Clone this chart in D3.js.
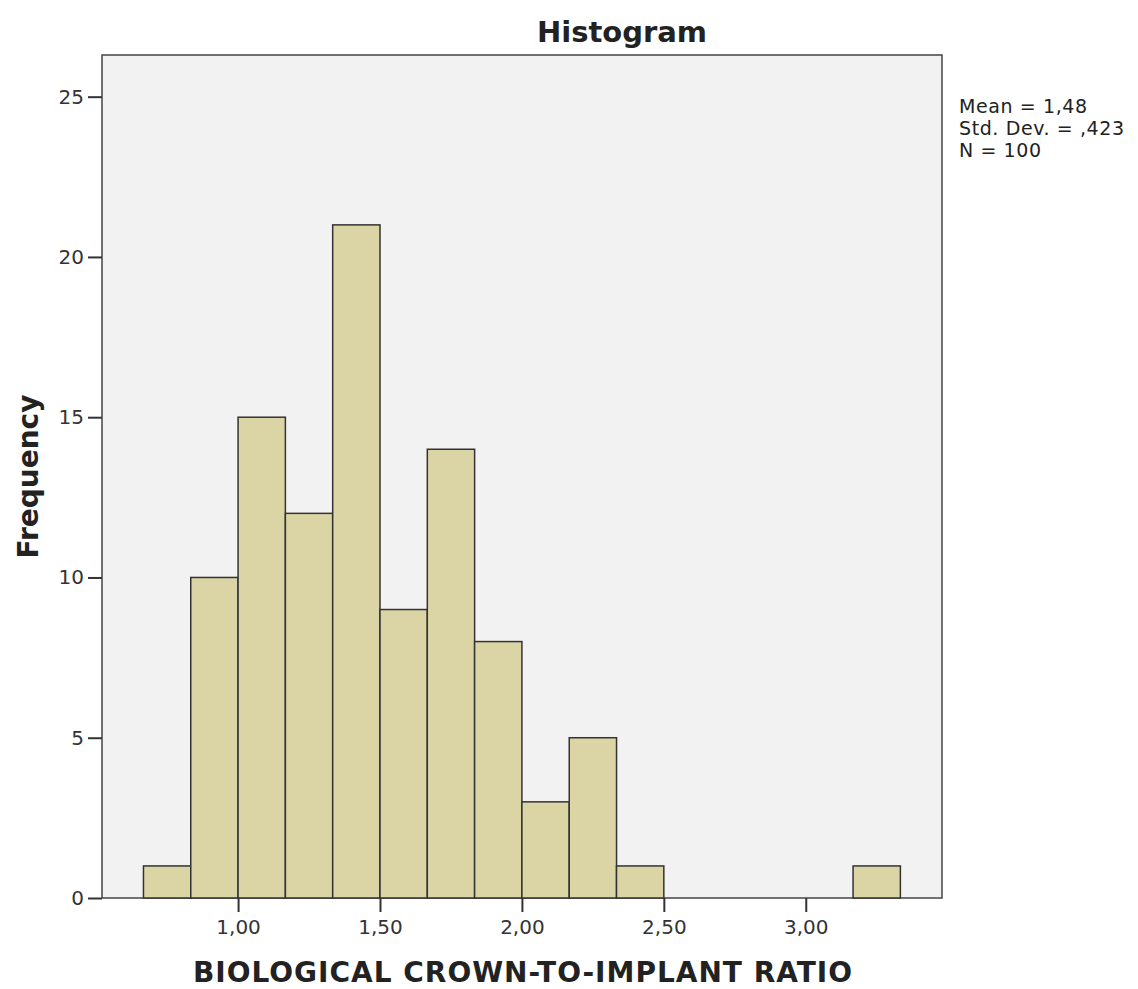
<!DOCTYPE html>
<html>
<head>
<meta charset="utf-8">
<script src="https://cdn.jsdelivr.net/npm/d3@7"></script>
<style>
  body { margin: 0; background: #fff; }
  text { font-family: "DejaVu Sans", sans-serif; fill: #222; }
</style>
</head>
<body>
<svg id="chart" width="1138" height="989"></svg>
<script>
const width = 1138;
const height = 989;

// bins of width 1/6, left edges
const binStart = [0.6667, 0.8333, 1.0, 1.1667, 1.3333, 1.5, 1.6667, 1.8333, 2.0, 2.1667, 2.3333, 2.5, 2.6667, 2.8333, 3.0, 3.1667];
const counts   = [1, 10, 15, 12, 21, 9, 14, 8, 3, 5, 1, 0, 0, 0, 0, 1];
const binWidth = 1 / 6;

const xTicks = [1.0, 1.5, 2.0, 2.5, 3.0];
const yTicks = [0, 5, 10, 15, 20, 25];
const stats = ['Mean = 1,48', 'Std. Dev. = ,423', 'N = 100'];

const plotL = 102, plotR = 942, plotT = 55, plotB = 898;

const svg = d3.select('#chart');

const scaleX = d3.scaleLinear()
  .domain([0.5206, 3.48])
  .range([plotL, plotR]);

const scaleY = d3.scaleLinear()
  .domain([0, 26.3])
  .range([plotB, plotT]);

// plot frame
svg.append('rect')
  .attr('x', plotL)
  .attr('y', plotT)
  .attr('width', plotR - plotL)
  .attr('height', plotB - plotT)
  .style('fill', '#f2f2f2')
  .style('stroke', '#444')
  .style('stroke-width', 1.5);

const bins = binStart.map((s, i) => ({ x0: s, x1: s + binWidth, n: counts[i] }))
  .filter(d => d.n > 0);

svg.selectAll('rect.bar')
  .data(bins)
  .enter()
  .append('rect')
  .attr('class', 'bar')
  .attr('x', d => scaleX(d.x0))
  .attr('y', d => scaleY(d.n))
  .attr('width', d => scaleX(d.x1) - scaleX(d.x0))
  .attr('height', d => scaleY(0) - scaleY(d.n))
  .style('fill', '#dbd4a4')
  .style('stroke', '#333')
  .style('stroke-width', 1.5);

const fmt = v => d3.format('.2f')(v).replace('.', ',');

const xAxis = d3.axisBottom(scaleX)
  .tickValues(xTicks)
  .tickFormat(fmt)
  .tickSize(14)
  .tickSizeOuter(0)
  .tickPadding(8);

const yAxis = d3.axisLeft(scaleY)
  .tickValues(yTicks)
  .tickSize(14)
  .tickSizeOuter(0)
  .tickPadding(4);

const gx = svg.append('g')
  .attr('transform', `translate(0,${plotB})`)
  .call(xAxis);

const gy = svg.append('g')
  .attr('transform', `translate(${plotL},0)`)
  .call(yAxis);

[gx, gy].forEach(g => {
  g.select('.domain').remove();
  g.selectAll('line').style('stroke', '#333').style('stroke-width', 2);
  g.selectAll('text')
    .style('font-family', '"DejaVu Sans", sans-serif')
    .style('font-size', '20px')
    .style('fill', '#333');
});

// title
svg.append('text')
  .attr('x', 622)
  .attr('y', 42)
  .attr('text-anchor', 'middle')
  .style('font-size', '29px')
  .style('font-weight', 'bold')
  .text('Histogram');

// axis titles
svg.append('text')
  .attr('x', 523)
  .attr('y', 982)
  .attr('text-anchor', 'middle')
  .style('font-size', '28px')
  .style('font-weight', 'bold')
  .style('letter-spacing', '1px')
  .text('BIOLOGICAL CROWN-TO-IMPLANT RATIO');

svg.append('text')
  .attr('transform', `translate(38,${(plotT + plotB) / 2}) rotate(-90)`)
  .attr('text-anchor', 'middle')
  .style('font-size', '28px')
  .style('font-weight', 'bold')
  .text('Frequency');

// stats box
svg.selectAll('text.stat')
  .data(stats)
  .enter()
  .append('text')
  .attr('class', 'stat')
  .attr('x', 959)
  .attr('y', (d, i) => 113 + i * 22)
  .style('font-size', '19px')
  .style('letter-spacing', '0.6px')
  .text(d => d);
</script>
</body>
</html>
